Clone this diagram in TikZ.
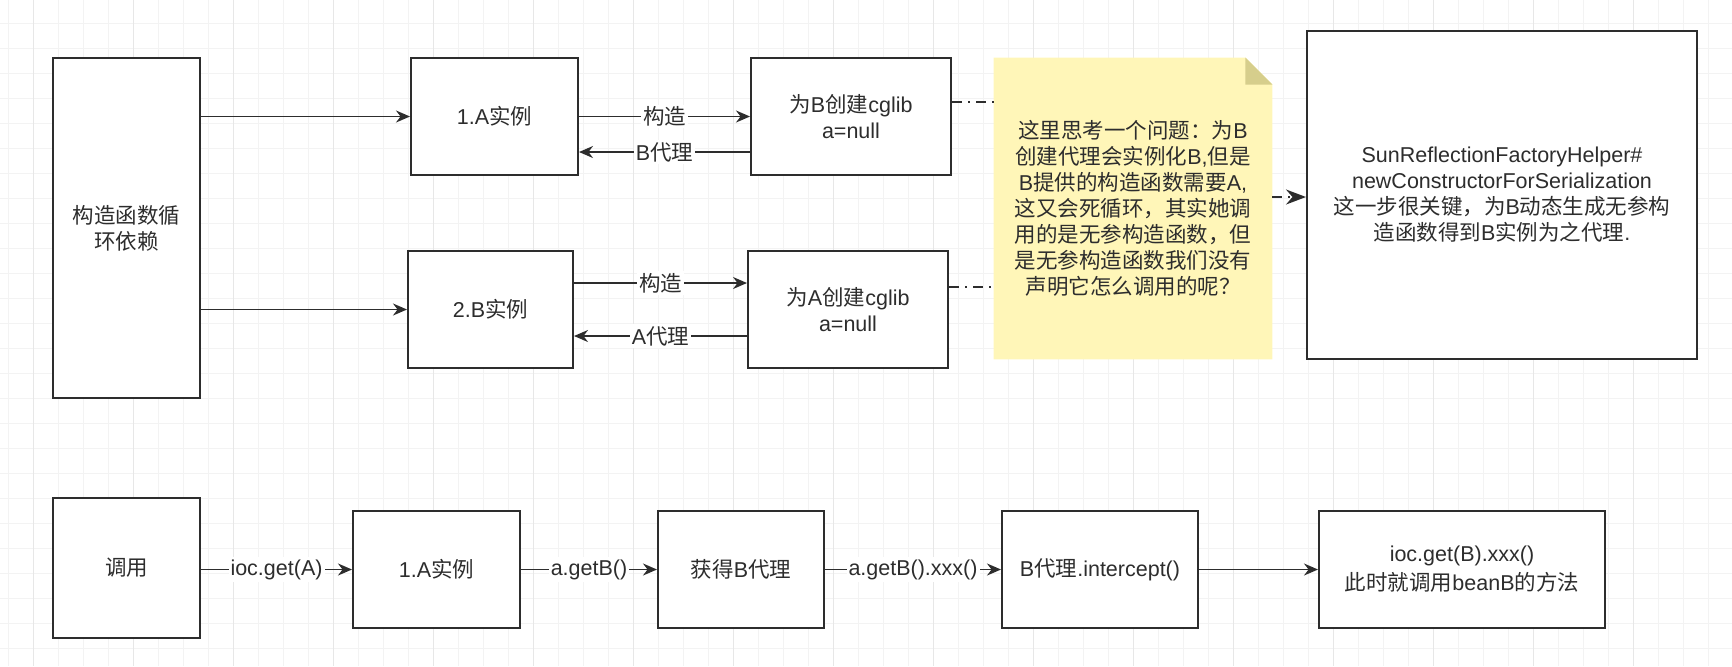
\documentclass[tikz,border=0pt]{standalone}
\usepackage{fontspec}
\setmainfont{Liberation Sans}
\newfontfamily\latin{Liberation Sans}
\newfontfamily\cjk{Noto Sans CJK SC}
\usetikzlibrary{arrows.meta,backgrounds}

% switch to the CJK font for Chinese characters
\XeTeXinterchartokenstate=1
\newXeTeXintercharclass\cjkclass
\newcount\cjkcode
\def\setcjkrange#1#2{\cjkcode=#1 \loop\XeTeXcharclass\cjkcode=\cjkclass \ifnum\cjkcode<#2 \advance\cjkcode by 1 \repeat}
\setcjkrange{"3000}{"303F}
\setcjkrange{"4E00}{"9FFF}
\setcjkrange{"FF00}{"FFEF}
\XeTeXinterchartoks 0 \cjkclass = {\cjk}
\XeTeXinterchartoks 4095 \cjkclass = {\cjk}
\XeTeXinterchartoks \cjkclass 0 = {\latin}
\XeTeXinterchartoks \cjkclass 4095 = {\latin}

\definecolor{notefill}{RGB}{255,246,184}
\definecolor{notefold}{RGB}{214,206,140}
\definecolor{gridminor}{RGB}{243,243,243}
\definecolor{gridmajor}{RGB}{231,231,231}
\definecolor{ink}{RGB}{45,45,45}

\tikzset{
 box/.style={draw=ink, line width=1pt, fill=white, align=center, inner sep=2pt},
 arr/.style={draw=ink, line width=0.9pt, -{Stealth[length=7pt,width=6pt]}},
 lbl/.style={fill=white, inner sep=1pt},
 dashdot/.style={draw=ink, line width=0.9pt, dash pattern=on 5pt off 3pt on 1pt off 3pt},
}

\begin{document}
\begin{tikzpicture}[x=0.5pt, y=-0.5pt, every node/.style={font=\fontsize{10.75}{13}\selectfont, text=ink}]
\useasboundingbox (0,0) rectangle (1732,666);

\begin{scope}[on background layer]
 \foreach \x in {8,33,...,1732} \draw[gridminor, line width=0.5pt] (\x,0) -- (\x,666);
 \foreach \y in {23,48,...,666} \draw[gridminor, line width=0.5pt] (0,\y) -- (1732,\y);
 \foreach \x in {33,133,...,1732} \draw[gridmajor, line width=0.5pt] (\x,0) -- (\x,666);
\end{scope}

% circular dependency
\node[box, minimum width=73.5pt, minimum height=170pt] (dep) at (126.5,228) {构造函数循\\环依赖};
\node[box, minimum width=83.5pt, minimum height=58.5pt] (a1) at (494.5,116.5) {1.A实例};
\node[box, minimum width=100pt, minimum height=58.5pt] (cgB) at (851,116.5) {为B创建cglib\\a=null};
\node[box, minimum width=82.5pt, minimum height=58.5pt] (b2) at (490.5,309.5) {2.B实例};
\node[box, minimum width=100pt, minimum height=58.5pt] (cgA) at (848,309.5) {为A创建cglib\\a=null};
\node[minimum width=139pt, minimum height=150.5pt, align=center] (note) at (1133,208.5)
 {这里思考一个问题：为B\\创建代理会实例化B,但是\\B提供的构造函数需要A,\\这又会死循环，其实她调\\用的是无参构造函数，但\\是无参构造函数我们没有\\声明它怎么调用的呢？};
\node[box, minimum width=195pt, minimum height=164pt] (helper) at (1502,195)
 {SunReflectionFactoryHelper\#\\newConstructorForSerialization\\这一步很关键，为B动态生成无参构\\造函数得到B实例为之代理.};

\begin{scope}[on background layer]
 \fill[notefill] (note.south west) -- (note.north west) -- ([xshift=-13.5pt]note.north east)
  -- ([yshift=-13.5pt]note.north east) -- (note.south east) -- cycle;
 \fill[notefold] ([xshift=-13.5pt]note.north east) -- ([yshift=-13.5pt]note.north east)
  -- ([xshift=-13.5pt,yshift=-13.5pt]note.north east) -- cycle;
\end{scope}

\draw[arr] (dep.east |- a1.west) -- (a1.west);
\draw[arr] (dep.east |- b2.west) -- (b2.west);
\draw[arr] (a1.east) -- node[lbl] {构造} (cgB.west);
\draw[arr] ([yshift=-17.75pt]cgB.west) -- node[lbl] {B代理} ([yshift=-17.75pt]a1.east);
\draw[arr] ([yshift=13.25pt]b2.east) -- node[lbl] {构造} ([yshift=13.25pt]cgA.west);
\draw[arr] ([yshift=-13.25pt]cgA.west) -- node[lbl] {A代理} ([yshift=-13.25pt]b2.east);
\draw[dashdot] ([yshift=7.25pt]cgB.east) -- ([yshift=7.25pt]cgB.east -| note.west);
\draw[dashdot] ([yshift=11.25pt]cgA.east) -- ([yshift=11.25pt]cgA.east -| note.west);
\draw[dashdot, -{Stealth[length=10pt,width=7.5pt]}] ([yshift=5.75pt]note.east) -- ([yshift=5.75pt]note.east -| helper.west);

% call chain
\node[box, minimum width=73.5pt, minimum height=70pt] (call) at (126.5,568) {调用};
\node[box, minimum width=83.5pt, minimum height=58.5pt] (a1b) at (436.5,569.5) {1.A实例};
\node[box, minimum width=83pt, minimum height=58.5pt] (getB) at (741,569.5) {获得B代理};
\node[box, minimum width=98pt, minimum height=58.5pt] (icpt) at (1100,569.5) {B代理.intercept()};
\node[box, minimum width=143pt, minimum height=58.5pt] (res) at (1462,569.5) {ioc.get(B).xxx()\\[1.5pt]此时就调用beanB的方法};

\draw[arr] (call.east |- a1b.west) -- node[lbl] {ioc.get(A)} (a1b.west);
\draw[arr] (a1b) -- node[lbl] {a.getB()} (getB);
\draw[arr] (getB) -- node[lbl] {a.getB().xxx()} (icpt);
\draw[arr] (icpt) -- (res);
\end{tikzpicture}
\end{document}
